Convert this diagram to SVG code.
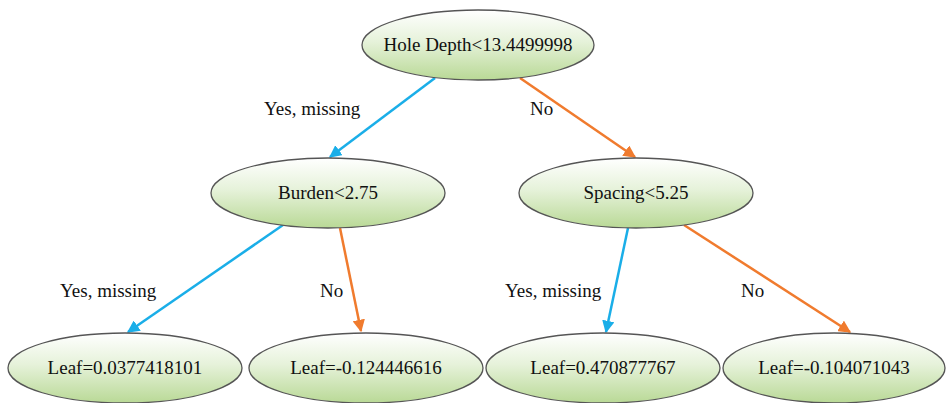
<svg xmlns="http://www.w3.org/2000/svg" width="946" height="403" viewBox="0 0 946 403">
<defs>
<linearGradient id="g" x1="0" y1="0" x2="0" y2="1">
<stop offset="0" stop-color="#ffffff"/>
<stop offset="0.45" stop-color="#e6f2da"/>
<stop offset="1" stop-color="#b9d996"/>
</linearGradient>
<marker id="ab" viewBox="0 0 10 10" refX="9" refY="5" markerWidth="5" markerHeight="5" orient="auto" markerUnits="strokeWidth"><path d="M0,0 L10,5 L0,10 z" fill="#1aaee8"/></marker>
<marker id="ao" viewBox="0 0 10 10" refX="9" refY="5" markerWidth="5" markerHeight="5" orient="auto" markerUnits="strokeWidth"><path d="M0,0 L10,5 L0,10 z" fill="#f07b2e"/></marker>
</defs>
<style>
.n{fill:url(#g);stroke:#555;stroke-width:1.3}
.t{font-family:"Liberation Serif","Times New Roman",serif;font-size:19px;fill:#111;text-anchor:middle}
.l{font-family:"Liberation Serif","Times New Roman",serif;font-size:19px;fill:#111}
.b{stroke:#1aaee8;stroke-width:2.5;fill:none;marker-end:url(#ab)}
.o{stroke:#f07b2e;stroke-width:2.5;fill:none;marker-end:url(#ao)}
</style>
<rect width="946" height="403" fill="#fff"/>
<g id="connectors">
<line class="b" x1="435" y1="78" x2="330" y2="157"/>
<line class="o" x1="520" y1="78" x2="635" y2="157"/>
<line class="b" x1="283" y1="225" x2="128" y2="332"/>
<line class="o" x1="340" y1="228" x2="361" y2="331"/>
<line class="b" x1="628" y1="228" x2="606" y2="332"/>
<line class="o" x1="684" y1="225" x2="850" y2="332"/>
<text class="l" x="264" y="115">Yes, missing</text>
<text class="l" x="530" y="115">No</text>
<text class="l" x="60" y="297">Yes, missing</text>
<text class="l" x="320" y="297">No</text>
<text class="l" x="505" y="297">Yes, missing</text>
<text class="l" x="741" y="297">No</text>
</g>
<g id="root"><ellipse class="n" cx="478" cy="45" rx="116" ry="35"/><text class="t" x="478" y="51">Hole Depth&lt;13.4499998</text></g>
<g id="burden"><ellipse class="n" cx="328" cy="193" rx="117" ry="35"/><text class="t" x="328" y="199">Burden&lt;2.75</text></g>
<g id="spacing"><ellipse class="n" cx="636" cy="193" rx="117" ry="35"/><text class="t" x="636" y="199">Spacing&lt;5.25</text></g>
<g id="leaf1"><ellipse class="n" cx="125" cy="368" rx="117" ry="35"/><text class="t" x="125" y="374">Leaf=0.0377418101</text></g>
<g id="leaf2"><ellipse class="n" cx="366" cy="368" rx="117" ry="35"/><text class="t" x="366" y="374">Leaf=-0.124446616</text></g>
<g id="leaf3"><ellipse class="n" cx="603" cy="368" rx="117" ry="35"/><text class="t" x="603" y="374">Leaf=0.470877767</text></g>
<g id="leaf4"><ellipse class="n" cx="834" cy="368" rx="111" ry="35"/><text class="t" x="834" y="374">Leaf=-0.104071043</text></g>
</svg>
